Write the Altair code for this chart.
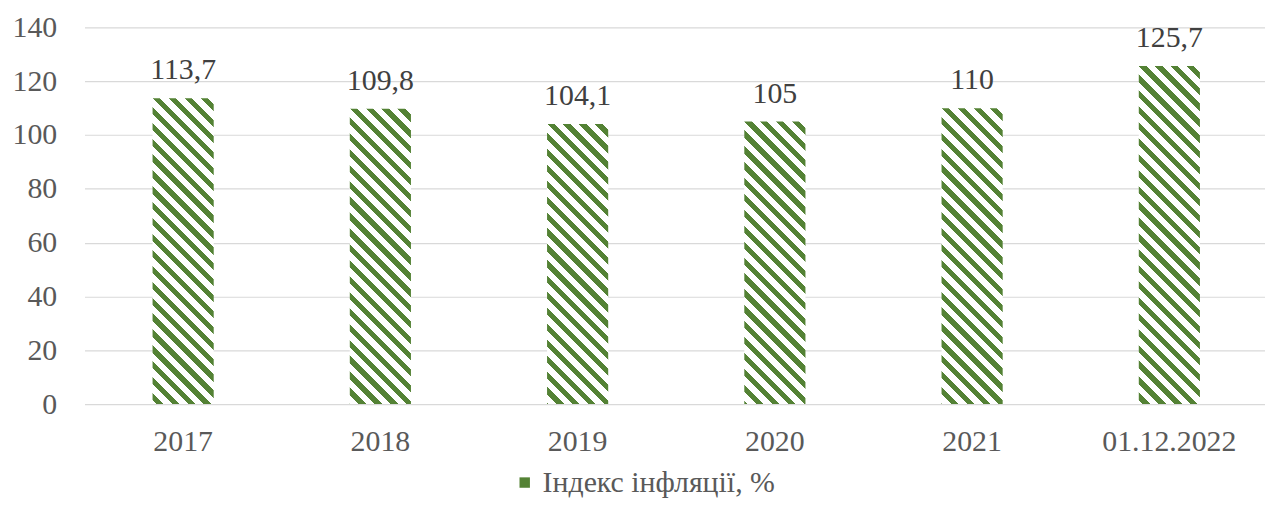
import altair as alt
import pandas as pd
import math

categories = ["2017", "2018", "2019", "2020", "2021", "01.12.2022"]
values = [113.7, 109.8, 104.1, 105, 110, 125.7]
labels = ["113,7", "109,8", "104,1", "105", "110", "125,7"]
series_name = "Індекс інфляції, %"
y_ticks = [0, 20, 40, 60, 80, 100, 120, 140]

df = pd.DataFrame({"cat": categories, "value": values, "label": labels,
                   "series": [series_name] * len(categories)})

W, H, YMAX = 1188, 379, 140
XR = 1191
P_IN = 0.69
P_OUT = P_IN / 2
step = XR / (len(categories) - P_IN + 2 * P_OUT)
bw = step * (1 - P_IN)

GREEN = "#548235"
FONT = "Liberation Serif"
FS = 30


def hatch(h, w, period=16.0, duty=0.46, color=GREEN, bg="#ffffff"):
    a = w / period
    b = h / period
    n = a + b
    s = n / (a * a + b * b)
    x2 = s * a
    y2 = 1 - s * b

    def col(f):
        return color if (f - math.floor(f)) < duty else bg

    bounds = []
    m = math.floor(-b) - 1
    while m <= a + 1:
        for f in (m, m + duty):
            t = (f + b) / n
            if 0 < t < 1:
                bounds.append(t)
        m += 1
    bounds.sort()
    stops = []
    cur = col(-b + 1e-9)
    stops.append({"offset": 0, "color": cur})
    for t in bounds:
        nxt = col(t * n - b + 1e-9)
        stops.append({"offset": t, "color": cur})
        stops.append({"offset": t, "color": nxt})
        cur = nxt
    stops.append({"offset": 1, "color": cur})
    return {"gradient": "linear", "x1": 0, "y1": 1, "x2": x2, "y2": y2,
            "stops": stops}


x_enc = alt.X("cat:N", sort=categories,
              scale=alt.Scale(domain=categories, paddingInner=P_IN,
                              paddingOuter=P_OUT, range=[0, XR]),
              axis=alt.Axis(title=None, labelAngle=0, domain=False,
                            ticks=False, labelPadding=23, labelFont=FONT,
                            labelFontSize=FS, labelColor="#595959",
                            grid=False))
y_enc = alt.Y("value:Q", scale=alt.Scale(domain=[0, YMAX]),
              axis=alt.Axis(title=None, values=y_ticks, domain=False,
                            ticks=False, labelPadding=28, labelFont=FONT,
                            labelFontSize=FS, labelColor="#595959",
                            gridColor="#d9d9d9", gridWidth=1.2))

base = alt.Chart(df)
layers = []
for c, v in zip(categories, values):
    h = v / YMAX * H
    layers.append(
        base.transform_filter(alt.datum.cat == c)
        .mark_bar(fill=hatch(h, bw))
        .encode(x=x_enc, y=y_enc)
    )

text = base.mark_text(dy=-19, baseline="alphabetic", font=FONT,
                      fontSize=FS, color="#404040").encode(
    x=x_enc, y=y_enc, text="label:N")

legend_layer = base.mark_point(size=0, filled=True, opacity=1,
                               shape="square").encode(
    color=alt.Color("series:N",
                    scale=alt.Scale(domain=[series_name], range=[GREEN]),
                    legend=alt.Legend(title=None, orient="none",
                                      legendX=428, legendY=443,
                                      symbolType="square", symbolSize=110,
                                      symbolStrokeWidth=0, symbolOpacity=1,
                                      labelFont=FONT, labelFontSize=FS,
                                      labelColor="#595959", labelOffset=3,
                                      labelLimit=0))
)

chart = alt.layer(*layers, text, legend_layer).properties(
    width=W, height=H,
    padding={"left": 77, "top": 18, "right": 0, "bottom": 100},
    autosize=alt.AutoSizeParams(type="none"),
).configure_view(stroke=None)

chart.save("out.html", embed_options={"renderer": "svg", "actions": False})
